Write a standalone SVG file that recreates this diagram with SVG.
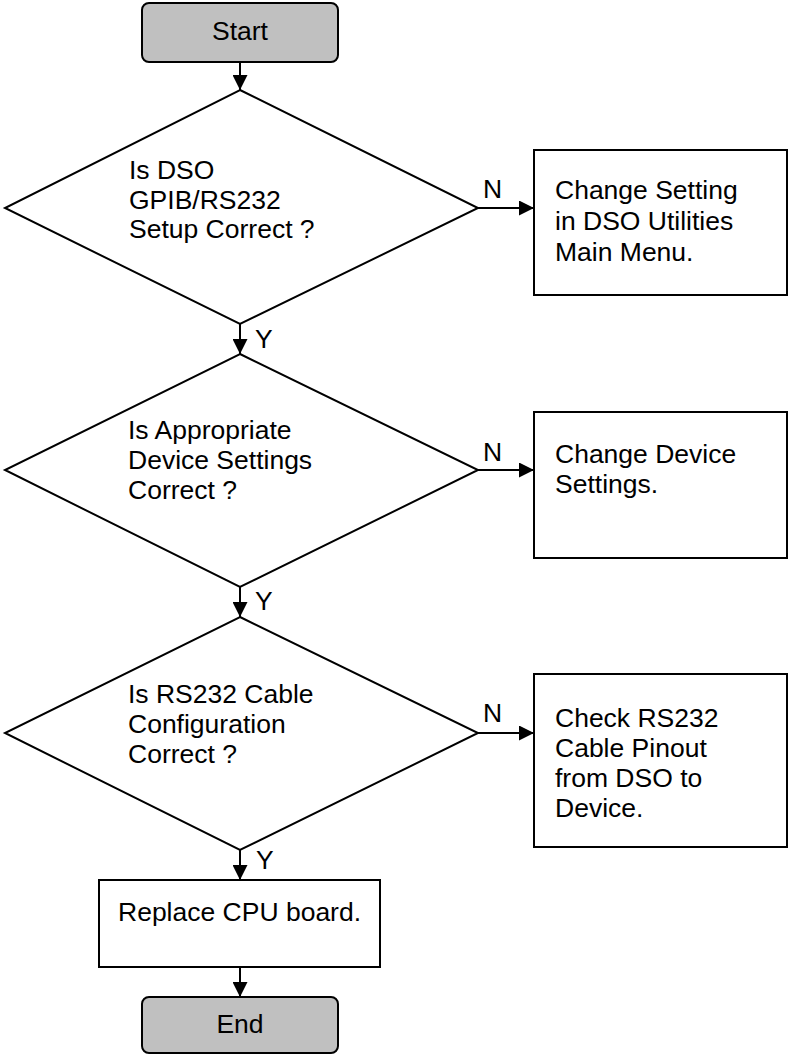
<svg xmlns="http://www.w3.org/2000/svg" width="789" height="1057" viewBox="0 0 789 1057">
<defs>
<style>
.shape{fill:#fff;stroke:#000;stroke-width:2}
.term{fill:#c0c0c0;stroke:#000;stroke-width:2}
.t{font-family:"Liberation Sans",Arial,sans-serif;font-size:26.5px;fill:#000}
.c{text-anchor:middle}
.line{stroke:#000;stroke-width:2;fill:none}
</style>
<marker id="ah" markerWidth="15" markerHeight="15" refX="15" refY="7.5" orient="auto" markerUnits="userSpaceOnUse">
<path d="M0,0 L15,7.5 L0,15 Z" fill="#000"/>
</marker>
</defs>
<rect width="789" height="1057" fill="#fff"/>
<g id="connectors">
<line class="line" x1="240" y1="62" x2="240" y2="90" marker-end="url(#ah)"/>
<line class="line" x1="240" y1="324" x2="240" y2="354" marker-end="url(#ah)"/>
<line class="line" x1="240" y1="587" x2="240" y2="617" marker-end="url(#ah)"/>
<line class="line" x1="240" y1="850" x2="240" y2="880" marker-end="url(#ah)"/>
<line class="line" x1="240" y1="967" x2="240" y2="997" marker-end="url(#ah)"/>
<line class="line" x1="478" y1="208" x2="534" y2="208" marker-end="url(#ah)"/>
<line class="line" x1="478" y1="470" x2="534" y2="470" marker-end="url(#ah)"/>
<line class="line" x1="478" y1="733" x2="534" y2="733" marker-end="url(#ah)"/>
<text class="t" x="483" y="198">N</text>
<text class="t" x="483" y="461">N</text>
<text class="t" x="483" y="722">N</text>
<text class="t" x="255" y="348">Y</text>
<text class="t" x="255" y="610">Y</text>
<text class="t" x="256" y="869">Y</text>
</g>
<g id="start">
<rect class="term" x="142" y="3" width="196" height="59" rx="7"/>
<text class="t c" x="240" y="40">Start</text>
</g>
<g id="decision1">
<polygon class="shape" points="240,90 478,208 240,324 5,208"/>
<text class="t" x="129" y="179">Is DSO</text>
<text class="t" x="129" y="209">GPIB/RS232</text>
<text class="t" x="129" y="238">Setup Correct ?</text>
</g>
<g id="action1">
<rect class="shape" x="534" y="150" width="253" height="145"/>
<text class="t" x="555" y="199">Change Setting</text>
<text class="t" x="555" y="230">in DSO Utilities</text>
<text class="t" x="555" y="261">Main Menu.</text>
</g>
<g id="decision2">
<polygon class="shape" points="240,354 478,470 240,587 5,470"/>
<text class="t" x="128" y="439">Is Appropriate</text>
<text class="t" x="128" y="469">Device Settings</text>
<text class="t" x="128" y="499">Correct ?</text>
</g>
<g id="action2">
<rect class="shape" x="534" y="412" width="253" height="146"/>
<text class="t" x="555" y="463">Change Device</text>
<text class="t" x="555" y="493">Settings.</text>
</g>
<g id="decision3">
<polygon class="shape" points="240,617 478,733 240,850 5,733"/>
<text class="t" x="128" y="703">Is RS232 Cable</text>
<text class="t" x="128" y="733">Configuration</text>
<text class="t" x="128" y="763">Correct ?</text>
</g>
<g id="action3">
<rect class="shape" x="534" y="674" width="253" height="173"/>
<text class="t" x="555" y="727">Check RS232</text>
<text class="t" x="555" y="757">Cable Pinout</text>
<text class="t" x="555" y="787">from DSO to</text>
<text class="t" x="555" y="817">Device.</text>
</g>
<g id="replace">
<rect class="shape" x="99" y="880" width="281" height="87"/>
<text class="t" x="118" y="921">Replace CPU board.</text>
</g>
<g id="end">
<rect class="term" x="142" y="997" width="196" height="56" rx="7"/>
<text class="t c" x="240" y="1033">End</text>
</g>
</svg>
